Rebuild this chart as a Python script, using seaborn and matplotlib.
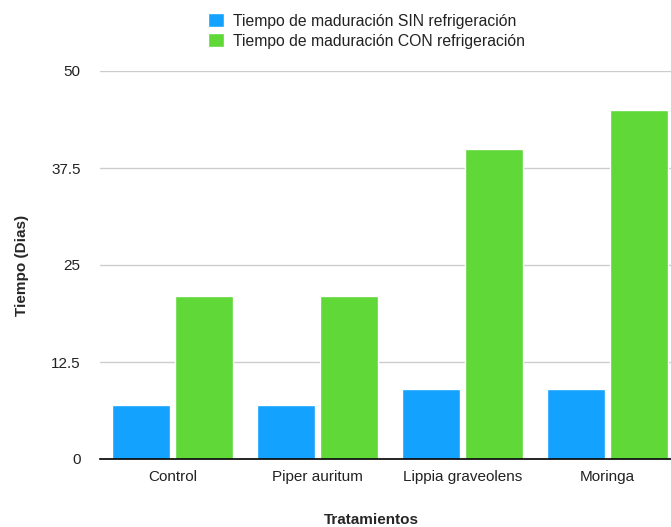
import matplotlib
matplotlib.use("Agg")
import matplotlib.pyplot as plt
import seaborn as sns
import pandas as pd

categories = ["Control", "Piper auritum", "Lippia graveolens", "Moringa"]
series_names = ["Tiempo de maduración SIN refrigeración", "Tiempo de maduración CON refrigeración"]
sin_vals = [7, 7, 9, 9]
con_vals = [21, 21, 40, 45]
yticks = [0, 12.5, 25, 37.5, 50]
ytick_labels = ["0", "12.5", "25", "37.5", "50"]

df = pd.DataFrame({
    "Tratamientos": categories * 2,
    "Tiempo": sin_vals + con_vals,
    "Serie": [series_names[0]] * 4 + [series_names[1]] * 4,
})

sns.set_style("white")
plt.rcParams["font.family"] = ["Liberation Sans", "DejaVu Sans"]

fig = plt.figure(figsize=(6.71, 5.27), dpi=100)
ax = fig.add_axes([100 / 671, 68 / 527, 580 / 671, 388 / 527])

palette = {series_names[0]: "#14A2FF", series_names[1]: "#5FD838"}
sns.barplot(data=df, x="Tratamientos", y="Tiempo", hue="Serie", palette=palette,
            width=0.87, gap=0.07, ax=ax, saturation=1, legend=True, zorder=3)

ax.set_ylim(0, 50)
ax.set_xlim(-0.5, 3.5)
ax.set_yticks(yticks)
ax.set_yticklabels(ytick_labels)
ax.yaxis.grid(True, color="#cccccc", linewidth=1, zorder=0)
ax.set_axisbelow(True)
for s in ["left", "right", "top"]:
    ax.spines[s].set_visible(False)
ax.spines["bottom"].set_color("black")
ax.spines["bottom"].set_linewidth(1.2)
ax.spines["bottom"].set_zorder(5)
ax.tick_params(axis="y", length=0, pad=14, labelsize=11, labelcolor="#222222")
ax.tick_params(axis="x", length=0, pad=8, labelsize=11, labelcolor="#222222")

ax.set_xlabel("")
fig.text(371 / 671, 1 - 520 / 527, "Tratamientos", fontsize=11, fontweight="bold",
         ha="center", va="center")
ax.set_ylabel("Tiempo (Dias)", fontsize=11, fontweight="bold", labelpad=16)

leg = ax.legend(loc="upper left", bbox_to_anchor=(195 / 671, 1.0), bbox_transform=fig.transFigure,
                frameon=False, fontsize=11.3, handlelength=1.0, handleheight=1.0,
                handletextpad=0.6, labelspacing=0.3, borderaxespad=0.45)
for t in leg.get_texts():
    t.set_color("#222222")

fig.savefig("out.png", dpi=100)
